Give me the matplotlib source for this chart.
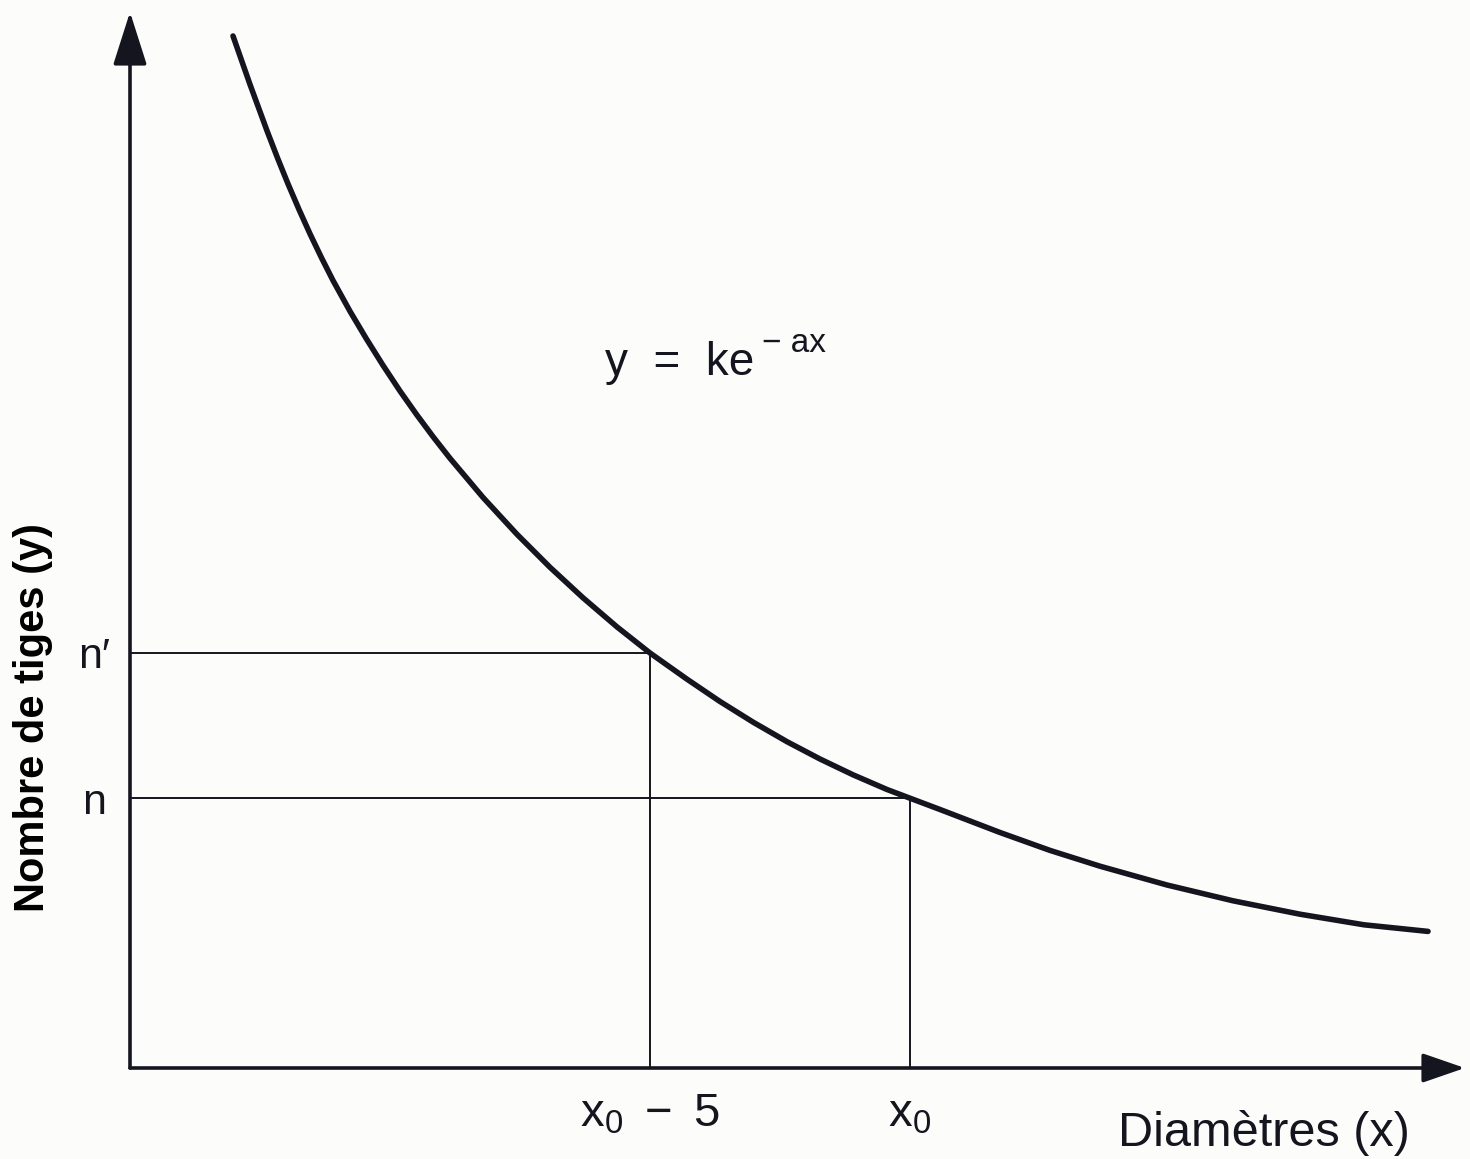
import matplotlib
matplotlib.use("Agg")
import matplotlib.pyplot as plt

# Stem count vs diameter: decreasing exponential curve y = k e^(-a x)
curve_x = [1.981, 2.308, 2.635, 2.837, 3.038, 3.250, 3.462, 3.683, 3.904,
           4.231, 4.548, 4.865, 5.192, 5.519, 5.837, 6.154, 6.788, 7.442,
           8.077, 8.712, 9.365, 10.0, 10.712, 11.346, 11.981, 12.635,
           13.269, 13.904, 14.558, 15.0, 15.577, 16.731, 17.692, 18.654,
           19.942, 21.212, 22.5, 23.731, 24.962]
curve_y = [103.2, 98.35, 93.72, 91.0, 88.42, 85.85, 83.41, 81.02, 78.75,
           75.67, 72.9, 70.27, 67.7, 65.29, 63.07, 60.97, 57.06, 53.37,
           50.07, 47.02, 44.11, 41.5, 38.88, 36.65, 34.59, 32.63,
           30.9, 29.32, 27.85, 26.98, 25.85, 23.55, 21.76, 20.18,
           18.3, 16.72, 15.38, 14.32, 13.66]

# Marked diameters and the matching stem counts read on the curve
mark_x = [10.0, 15.0]
mark_y = [41.5, 26.98]
x_tick_labels = [r"$\mathregular{x_0\ -\ 5}$", r"$\mathregular{x_0}$"]
y_tick_labels = ["n\u2032", "n"]

x_label = "Diamètres (x)"
y_label = "Nombre de tiges (y)"

plt.rcParams["font.family"] = ["Liberation Sans", "DejaVu Sans"]
plt.rcParams["mathtext.fontset"] = "custom"
plt.rcParams["mathtext.rm"] = "Liberation Sans"
plt.rcParams["mathtext.it"] = "Liberation Sans"

W, H = 1470, 1159
fig = plt.figure(figsize=(W / 100, H / 100), dpi=100)
bg = "#fcfcfa"
fig.patch.set_facecolor(bg)

left_px, base_px = 130, 1068
ax = fig.add_axes([left_px / W, (H - base_px) / H, 1 - left_px / W, base_px / H])
ax.set_facecolor(bg)
ax.set_xlim(0, (W - left_px) / 52)
ax.set_ylim(0, base_px / 10)
for s in ax.spines.values():
    s.set_visible(False)

ink = "#15151f"

# Axes drawn as arrows
ax.annotate("", xy=(0, 105.6), xytext=(0, 0),
            arrowprops=dict(arrowstyle="-|>,head_length=3.3,head_width=1.05",
                            mutation_scale=10, lw=2.6, color=ink,
                            shrinkA=0, shrinkB=0), annotation_clip=False)
ax.annotate("", xy=(25.67, 0), xytext=(0, 0),
            arrowprops=dict(arrowstyle="-|>,head_length=2.6,head_width=0.9",
                            mutation_scale=10, lw=2.6, color=ink,
                            shrinkA=0, shrinkB=0), annotation_clip=False)

# Guide lines from the curve to both axes
for mx, my in zip(mark_x, mark_y):
    ax.plot([0, mx], [my, my], color=ink, lw=1.4, solid_capstyle="butt")
    ax.plot([mx, mx], [0, my], color=ink, lw=1.4, solid_capstyle="butt")

# Curve
ax.plot(curve_x, curve_y, color=ink, lw=4.0, solid_capstyle="round",
        solid_joinstyle="round")

# Ticks and labels
ax.set_xticks(mark_x)
ax.set_xticklabels(x_tick_labels, fontsize=34, color=ink)
ax.set_yticks(mark_y)
ax.set_yticklabels(y_tick_labels, fontsize=31, color=ink, ha="center")
ax.tick_params(axis="both", length=0)
ax.tick_params(axis="x", pad=18)
ax.tick_params(axis="y", pad=26)

ax.text(21.8, -6.5, x_label, fontsize=35, color=ink, ha="center", va="center",
        clip_on=False)
fig.text(33 / W, 1 - 717 / H, y_label, rotation=90, fontsize=30,
         fontweight="bold", color="black", ha="center", va="center")

# Formula
ax.text(9.13, 69.3, "y  =  ke", fontsize=33, color=ink, ha="left",
        va="baseline")
ax.text(12.15, 71.6, "\u2212 ax", fontsize=24, color=ink, ha="left",
        va="baseline")

fig.savefig("out.png", dpi=100, facecolor=bg)
